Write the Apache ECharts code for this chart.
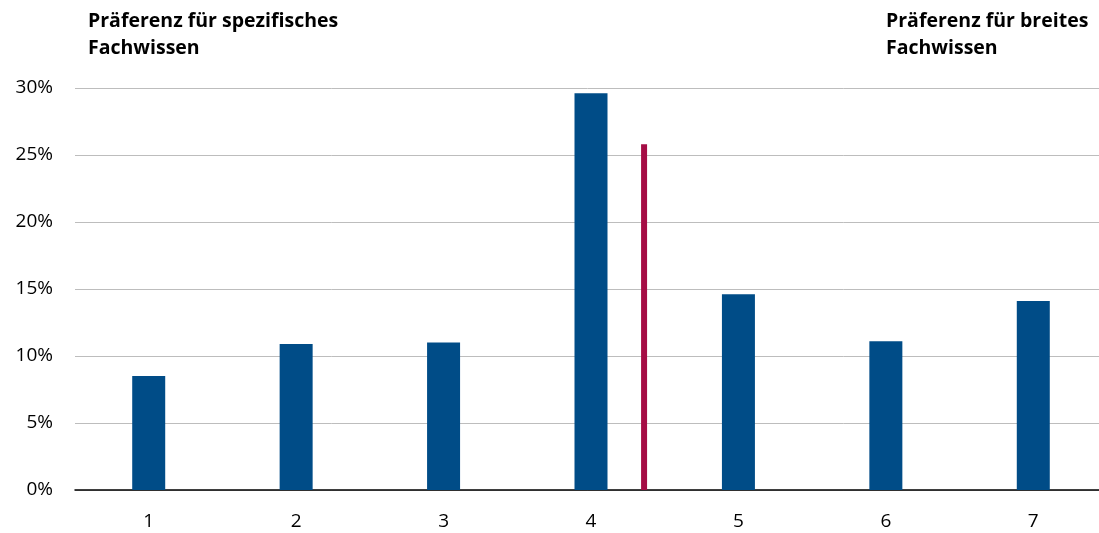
<!DOCTYPE html>
<html>
<head>
<meta charset="utf-8">
<script src="https://cdn.jsdelivr.net/npm/echarts@6/dist/echarts.min.js"></script>
<style>
  html, body { margin: 0; padding: 0; background: #fff; }
  #chart { width: 1099px; height: 533px; }
</style>
</head>
<body>
<div id="chart"></div>
<script>
// Scale points 1..7 and share of answers (%)
const categories = ['1', '2', '3', '4', '5', '6', '7'];
const shares = [8.5, 10.9, 11.0, 29.6, 14.6, 11.1, 14.1];
// Mean marker: position on the 1..7 scale and drawn height (%)
const meanPosition = 4.36;
const meanHeight = 25.8;
const yTicks = [0, 5, 10, 15, 20, 25, 30];

const font = '"Open Sans", "Liberation Sans", sans-serif';
const chart = echarts.init(document.getElementById('chart'));

chart.setOption({
  animation: false,
  // plot area runs slightly past the right edge of the canvas
  grid: { left: 75, width: 1032, top: 88, bottom: 43, containLabel: false, outerBoundsMode: 'none' },
  graphic: [
    { type: 'text', left: 88, top: 8, style: { text: 'Präferenz für spezifisches\nFachwissen', font: 'bold 19.5px ' + font, fill: '#000', lineHeight: 27 } },
    { type: 'text', left: 886, top: 8, style: { text: 'Präferenz für breites\nFachwissen', font: 'bold 19.5px ' + font, fill: '#000', lineHeight: 27 } }
  ],
  xAxis: [
    {
      type: 'category',
      data: categories,
      axisLine: { lineStyle: { color: '#000', width: 1.5 } },
      axisTick: { show: false },
      axisLabel: { color: '#000', fontSize: 19, fontFamily: font, margin: 22 }
    },
    {
      type: 'value',
      min: 0.5, max: 7.5,
      show: false
    }
  ],
  yAxis: {
    type: 'value',
    min: 0, max: 30, interval: 5,
    axisLine: { show: false },
    axisTick: { show: false },
    splitLine: { lineStyle: { color: '#bdbdbd', width: 1 } },
    axisLabel: { color: '#000', fontSize: 19, fontFamily: font, margin: 22,
      formatter: v => yTicks.includes(v) ? v + '%' : '' }
  },
  series: [
    {
      type: 'bar',
      data: shares,
      barWidth: 33,
      itemStyle: { color: '#004c87' },
      xAxisIndex: 0
    },
    {
      type: 'line',
      xAxisIndex: 1,
      data: [[meanPosition, 0], [meanPosition, meanHeight]],
      symbol: 'none',
      lineStyle: { color: '#a50d45', width: 6, cap: 'butt' },
      z: 5
    }
  ]
});
</script>
</body>
</html>
